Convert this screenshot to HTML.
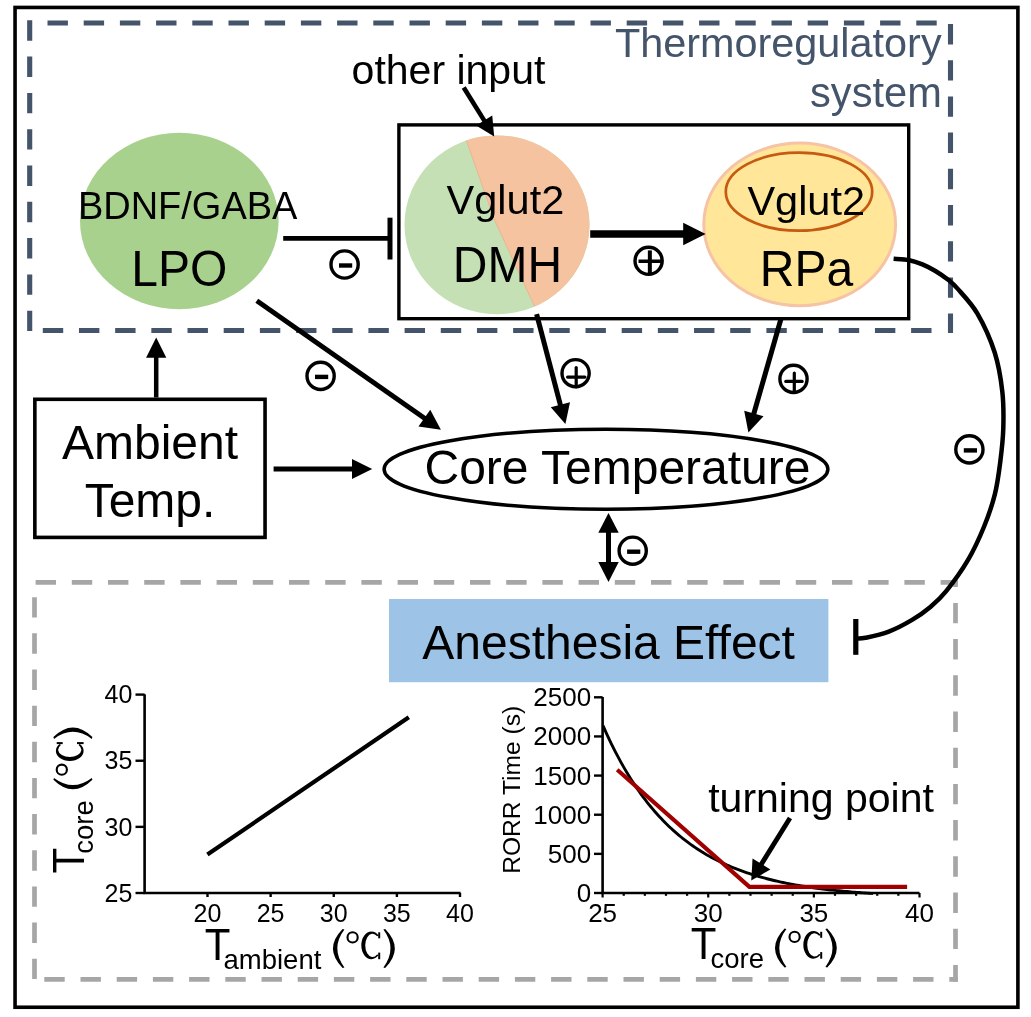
<!DOCTYPE html>
<html><head><meta charset="utf-8"><style>
html,body{margin:0;padding:0;background:#fff;width:1031px;height:1017px;overflow:hidden;}
svg{display:block;will-change:transform;}
text{font-family:"Liberation Sans",sans-serif;}
</style></head><body>
<svg width="1031" height="1017" viewBox="0 0 1031 1017">
<rect x="0" y="0" width="1031" height="1017" fill="#fff"/>
<rect x="15.05" y="7.45" width="1002.85" height="999.8" fill="none" stroke="#000" stroke-width="3.6"/>
<line x1="47.5" y1="23" x2="937" y2="23" stroke="#44546A" stroke-width="5.1" stroke-dasharray="20.4 15.8" stroke-dashoffset="0"/>
<line x1="29.7" y1="20.3" x2="29.7" y2="331.3" stroke="#44546A" stroke-width="5.1" stroke-dasharray="20.4 15.9" stroke-dashoffset="0"/>
<line x1="950.5" y1="24" x2="950.5" y2="332.9" stroke="#44546A" stroke-width="5.1" stroke-dasharray="20.4 15.8" stroke-dashoffset="0"/>
<line x1="42.8" y1="330.5" x2="932" y2="330.5" stroke="#44546A" stroke-width="5.1" stroke-dasharray="20.4 15.78" stroke-dashoffset="0"/>
<line x1="35.6" y1="582.4" x2="958" y2="582.4" stroke="#A6A6A6" stroke-width="4.7" stroke-dasharray="20.4 15.8" stroke-dashoffset="0"/>
<line x1="955.5" y1="580" x2="955.5" y2="981.8" stroke="#A6A6A6" stroke-width="4.7" stroke-dasharray="20.4 15.8" stroke-dashoffset="13.3"/>
<line x1="957.9" y1="979.4" x2="30" y2="979.4" stroke="#A6A6A6" stroke-width="4.7" stroke-dasharray="20.4 15.8" stroke-dashoffset="11.8"/>
<line x1="34.5" y1="597.2" x2="34.5" y2="979" stroke="#A6A6A6" stroke-width="4.7" stroke-dasharray="20.4 15.75" stroke-dashoffset="0"/>
<text x="941.6" y="57.2" font-size="41.4" fill="#44546A" text-anchor="end">Thermoregulatory</text>
<text x="941.8" y="106.6" font-size="41.6" fill="#44546A" text-anchor="end">system</text>
<rect x="398.9" y="124.9" width="509.8" height="193.8" fill="none" stroke="#000" stroke-width="3.4"/>
<ellipse cx="179.3" cy="221" rx="99.3" ry="88.2" fill="#A9D18E"/>
<clipPath id="dmhc"><ellipse cx="497" cy="224.8" rx="92.5" ry="89.4"/></clipPath>
<g clip-path="url(#dmhc)">
<rect x="400" y="130" width="200" height="190" fill="#C5E0B4"/>
<path d="M462,128 L494.6,220.3 L540,318 L600,318 L600,128 Z" fill="#F5C3A0" stroke="#EDB48E" stroke-width="1"/>
</g>
<ellipse cx="799.7" cy="224.4" rx="95.9" ry="81.3" fill="#FFE699" stroke="#F6C4A4" stroke-width="3"/>
<ellipse cx="799" cy="191.7" rx="73.2" ry="39" fill="none" stroke="#C55A11" stroke-width="2.7"/>
<text transform="translate(77.9,218.6) scale(1,1.04)" font-size="38" fill="#000" text-anchor="start">BDNF/GABA</text>
<text transform="translate(131.2,286.2) scale(1,1.04)" font-size="48" fill="#000" text-anchor="start">LPO</text>
<text x="446.6" y="213.8" font-size="41.5" fill="#000" text-anchor="start">Vglut2</text>
<text transform="translate(452.8,282.2) scale(1,1.04)" font-size="48" fill="#000" text-anchor="start">DMH</text>
<text x="747.4" y="215.4" font-size="41.5" fill="#000" text-anchor="start">Vglut2</text>
<text transform="translate(759.8,285.8) scale(1,1.03)" font-size="48" fill="#000" text-anchor="start">RPa</text>
<text x="351.6" y="83.7" font-size="41" fill="#000" text-anchor="start">other input</text>
<line x1="463.7" y1="87.5" x2="485.23" y2="122.16" stroke="#000" stroke-width="4.6"/>
<polygon points="494.2,136.6 476.1,125.47 492.24,115.45" fill="#000"/>
<line x1="283.2" y1="238.4" x2="390" y2="238.4" stroke="#000" stroke-width="4.7"/>
<rect x="387.5" y="217.7" width="5" height="41.8" fill="#000"/>
<circle cx="344.6" cy="264.5" r="13.6" fill="none" stroke="#000" stroke-width="3.4"/>
<rect x="339" y="263.3" width="13.2" height="4.4" fill="#000"/>
<line x1="590.2" y1="234" x2="685.2" y2="234" stroke="#000" stroke-width="7.7"/>
<polygon points="705.6,234 683.2,245.15 683.2,222.85" fill="#000"/>
<circle cx="648.6" cy="260.8" r="13.6" fill="none" stroke="#000" stroke-width="3.4"/>
<line x1="649.85" y1="250.4" x2="649.85" y2="274.4" stroke="#000" stroke-width="4" stroke-linecap="butt"/>
<line x1="638.5" y1="261.25" x2="661.5" y2="261.25" stroke="#000" stroke-width="3.5" stroke-linecap="butt"/>
<line x1="256.8" y1="300.7" x2="425.99" y2="419.26" stroke="#000" stroke-width="5"/>
<polygon points="440.9,429.7 418.45,426.54 430.27,409.67" fill="#000"/>
<circle cx="320.6" cy="375.9" r="13.6" fill="none" stroke="#000" stroke-width="3.4"/>
<rect x="315" y="374.7" width="13.2" height="4.4" fill="#000"/>
<line x1="536.6" y1="314.1" x2="560.89" y2="406.78" stroke="#000" stroke-width="5"/>
<polygon points="565.4,424 550.76,407.37 570.01,402.32" fill="#000"/>
<circle cx="575.6" cy="373.2" r="13.6" fill="none" stroke="#000" stroke-width="3.4"/>
<line x1="576.2" y1="367.5" x2="576.2" y2="386.8" stroke="#000" stroke-width="3.2" stroke-linecap="round"/>
<line x1="567.6" y1="377.1" x2="584.9" y2="377.1" stroke="#000" stroke-width="3.2" stroke-linecap="round"/>
<line x1="781.3" y1="317.7" x2="753.3" y2="415.49" stroke="#000" stroke-width="5"/>
<polygon points="748.4,432.6 744.19,410.8 763.51,416.33" fill="#000"/>
<circle cx="793.5" cy="378.9" r="13.6" fill="none" stroke="#000" stroke-width="3.4"/>
<line x1="794.3" y1="373" x2="794.3" y2="392.5" stroke="#000" stroke-width="3.2" stroke-linecap="round"/>
<line x1="785.8" y1="381.4" x2="802.1" y2="381.4" stroke="#000" stroke-width="3.2" stroke-linecap="round"/>
<rect x="34.85" y="399.3" width="230.2" height="138.1" fill="none" stroke="#000" stroke-width="3.6"/>
<text x="150" y="459.1" font-size="48" fill="#000" text-anchor="middle">Ambient</text>
<text x="150" y="516.6" font-size="48" fill="#000" text-anchor="middle">Temp.</text>
<line x1="156.2" y1="397.5" x2="156.2" y2="355.7" stroke="#000" stroke-width="4.5"/>
<polygon points="156.2,337.6 166.3,357.7 146.1,357.7" fill="#000"/>
<line x1="273.6" y1="469" x2="354" y2="469" stroke="#000" stroke-width="5"/>
<polygon points="372.2,469 352,479.1 352,458.9" fill="#000"/>
<ellipse cx="606" cy="469.25" rx="221.9" ry="40.05" fill="none" stroke="#000" stroke-width="3.5"/>
<text x="424.5" y="484.2" font-size="48" fill="#000" text-anchor="start">Core Temperature</text>
<line x1="608.5" y1="530" x2="608.5" y2="565" stroke="#000" stroke-width="5"/>
<polygon points="608.5,513.1 618.7,532.7 598.3,532.7" fill="#000"/>
<polygon points="608.5,581.9 618.7,561.9 598.3,561.9" fill="#000"/>
<circle cx="632.7" cy="550.7" r="13.6" fill="none" stroke="#000" stroke-width="3.4"/>
<rect x="627.1" y="549.5" width="13.2" height="4.4" fill="#000"/>
<path d="M893.6,258.8 C896.22,259.03 904.5,259.27 909.3,260.2 C914.1,261.13 918.05,262.6 922.4,264.4 C926.75,266.2 931.05,268.38 935.4,271 C939.75,273.62 944.85,277.2 948.5,280.1 C952.15,283 952.48,282.82 957.3,288.4 C962.12,293.98 971.17,302.92 977.4,313.6 C983.63,324.28 990.55,339.52 994.7,352.5 C998.85,365.48 1000.87,378.87 1002.3,391.5 C1003.73,404.13 1003.63,416.62 1003.3,428.3 C1002.97,439.98 1001.7,450.63 1000.3,461.6 C998.9,472.57 997.6,483.28 994.9,494.1 C992.2,504.92 988.6,515.48 984.1,526.5 C979.6,537.52 974.22,549.42 967.9,560.2 C961.58,570.98 952.4,583.45 946.2,591.2 C940,598.95 936.38,601.92 930.7,606.7 C925.02,611.48 919.08,615.75 912.1,619.9 C905.12,624.05 896.57,628.62 888.8,631.6 C881.03,634.58 870.97,636.65 865.5,637.8 C860.03,638.95 857.58,638.38 856,638.5" fill="none" stroke="#000" stroke-width="4.5"/>
<rect x="853.2" y="619" width="5.2" height="35.8" fill="#000"/>
<circle cx="969.4" cy="449.4" r="13.6" fill="none" stroke="#000" stroke-width="3.4"/>
<rect x="963.8" y="448.2" width="13.2" height="4.4" fill="#000"/>
<rect x="389" y="599" width="439.4" height="83.2" fill="#9DC3E6"/>
<text x="608.6" y="658.9" font-size="48" fill="#000" text-anchor="middle">Anesthesia Effect</text>
<path d="M144.6,694.2 V893 H460.6" fill="none" stroke="#000" stroke-width="2.6"/>
<line x1="135.5" y1="694.6" x2="144.6" y2="694.6" stroke="#000" stroke-width="2.4"/>
<text x="132.4" y="703.3" font-size="25" fill="#000" text-anchor="end">40</text>
<line x1="135.5" y1="760.73" x2="144.6" y2="760.73" stroke="#000" stroke-width="2.4"/>
<text x="132.4" y="769.43" font-size="25" fill="#000" text-anchor="end">35</text>
<line x1="135.5" y1="826.87" x2="144.6" y2="826.87" stroke="#000" stroke-width="2.4"/>
<text x="132.4" y="835.57" font-size="25" fill="#000" text-anchor="end">30</text>
<line x1="135.5" y1="893" x2="144.6" y2="893" stroke="#000" stroke-width="2.4"/>
<text x="132.4" y="901.7" font-size="25" fill="#000" text-anchor="end">25</text>
<line x1="207.5" y1="893" x2="207.5" y2="897" stroke="#000" stroke-width="2.4"/>
<text x="207.5" y="921.6" font-size="25" fill="#000" text-anchor="middle">20</text>
<line x1="270.62" y1="893" x2="270.62" y2="897" stroke="#000" stroke-width="2.4"/>
<text x="270.62" y="921.6" font-size="25" fill="#000" text-anchor="middle">25</text>
<line x1="333.75" y1="893" x2="333.75" y2="897" stroke="#000" stroke-width="2.4"/>
<text x="333.75" y="921.6" font-size="25" fill="#000" text-anchor="middle">30</text>
<line x1="396.88" y1="893" x2="396.88" y2="897" stroke="#000" stroke-width="2.4"/>
<text x="396.88" y="921.6" font-size="25" fill="#000" text-anchor="middle">35</text>
<line x1="460" y1="893" x2="460" y2="897" stroke="#000" stroke-width="2.4"/>
<text x="460" y="921.6" font-size="25" fill="#000" text-anchor="middle">40</text>
<line x1="207.4" y1="854.6" x2="408.8" y2="717.3" stroke="#000" stroke-width="4.2"/>
<text transform="translate(204.8,959.8) scale(1,1.05)" font-size="42" fill="#000" text-anchor="start">T</text>
<text x="223.5" y="968.5" font-size="27.5" fill="#000" text-anchor="start">ambient</text>
<g transform="translate(0,0)">
<path d="M342.6,929 Q323.4,948.5 342.6,968 L344.4,967.4 Q330.2,948.5 344.4,929.6 Z" fill="#000"/>
<path d="M342.6,929 Q323.4,948.5 342.6,968 L344.4,967.4 Q330.2,948.5 344.4,929.6 Z" fill="#000" transform="matrix(-1,0,0,1,727.8,0)"/>
<circle cx="352.6" cy="937.4" r="5.1" fill="none" stroke="#000" stroke-width="2.1"/>
<path d="M378.6,935.6 A10.1,13.85 0 1 0 378.6,955.1 L377.1,954.4 A7.3,11.6 0 1 1 377.1,936.3 Z" fill="#000"/>
<rect x="378.2" y="932.3" width="2" height="6" fill="#000"/>
<rect x="378.2" y="952.6" width="2" height="6.6" fill="#000"/>
</g>
<path d="M602.6,697 V893 H919.5" fill="none" stroke="#000" stroke-width="2.6"/>
<line x1="594" y1="697.3" x2="602.6" y2="697.3" stroke="#000" stroke-width="2.4"/>
<text x="591.2" y="706.3" font-size="26" fill="#000" text-anchor="end">2500</text>
<line x1="594" y1="736.44" x2="602.6" y2="736.44" stroke="#000" stroke-width="2.4"/>
<text x="591.2" y="745.44" font-size="26" fill="#000" text-anchor="end">2000</text>
<line x1="594" y1="775.58" x2="602.6" y2="775.58" stroke="#000" stroke-width="2.4"/>
<text x="591.2" y="784.58" font-size="26" fill="#000" text-anchor="end">1500</text>
<line x1="594" y1="814.72" x2="602.6" y2="814.72" stroke="#000" stroke-width="2.4"/>
<text x="591.2" y="823.72" font-size="26" fill="#000" text-anchor="end">1000</text>
<line x1="594" y1="853.86" x2="602.6" y2="853.86" stroke="#000" stroke-width="2.4"/>
<text x="591.2" y="862.86" font-size="26" fill="#000" text-anchor="end">500</text>
<line x1="594" y1="893" x2="602.6" y2="893" stroke="#000" stroke-width="2.4"/>
<text x="591.2" y="902" font-size="26" fill="#000" text-anchor="end">0</text>
<line x1="602.6" y1="893" x2="602.6" y2="897.5" stroke="#000" stroke-width="2.2"/>
<text x="602.6" y="922" font-size="26" fill="#000" text-anchor="middle">25</text>
<line x1="623.73" y1="893" x2="623.73" y2="895.8" stroke="#000" stroke-width="2.2"/>
<line x1="644.85" y1="893" x2="644.85" y2="895.8" stroke="#000" stroke-width="2.2"/>
<line x1="665.98" y1="893" x2="665.98" y2="895.8" stroke="#000" stroke-width="2.2"/>
<line x1="687.11" y1="893" x2="687.11" y2="895.8" stroke="#000" stroke-width="2.2"/>
<line x1="708.23" y1="893" x2="708.23" y2="897.5" stroke="#000" stroke-width="2.2"/>
<text x="708.23" y="922" font-size="26" fill="#000" text-anchor="middle">30</text>
<line x1="729.36" y1="893" x2="729.36" y2="895.8" stroke="#000" stroke-width="2.2"/>
<line x1="750.49" y1="893" x2="750.49" y2="895.8" stroke="#000" stroke-width="2.2"/>
<line x1="771.61" y1="893" x2="771.61" y2="895.8" stroke="#000" stroke-width="2.2"/>
<line x1="792.74" y1="893" x2="792.74" y2="895.8" stroke="#000" stroke-width="2.2"/>
<line x1="813.87" y1="893" x2="813.87" y2="897.5" stroke="#000" stroke-width="2.2"/>
<text x="813.87" y="922" font-size="26" fill="#000" text-anchor="middle">35</text>
<line x1="834.99" y1="893" x2="834.99" y2="895.8" stroke="#000" stroke-width="2.2"/>
<line x1="856.12" y1="893" x2="856.12" y2="895.8" stroke="#000" stroke-width="2.2"/>
<line x1="877.25" y1="893" x2="877.25" y2="895.8" stroke="#000" stroke-width="2.2"/>
<line x1="898.37" y1="893" x2="898.37" y2="895.8" stroke="#000" stroke-width="2.2"/>
<line x1="919.5" y1="893" x2="919.5" y2="897.5" stroke="#000" stroke-width="2.2"/>
<text x="919.5" y="922" font-size="26" fill="#000" text-anchor="middle">40</text>
<text transform="translate(519.6,789.8) rotate(-90)" font-size="24.6" text-anchor="middle">RORR Time (s)</text>
<polyline points="603,725.66 605,730.18 607,734.59 609,738.88 611,743.05 613,747.12 615,751.08 617,754.94 619,758.69 621,762.35 623,765.91 625,769.38 627,772.76 629,776.05 631,779.25 633,782.37 635,785.41 637,788.36 639,791.24 641,794.05 643,796.78 645,799.44 647,802.03 649,804.55 651,807.01 653,809.4 655,811.73 657,814 659,816.21 661,818.36 663,820.45 665,822.49 667,824.48 669,826.42 671,828.3 673,830.13 675,831.92 677,833.66 679,835.35 681,837 683,838.61 685,840.17 687,841.7 689,843.18 691,844.63 693,846.03 695,847.4 697,848.74 699,850.04 701,851.3 703,852.53 705,853.73 707,854.9 709,856.04 711,857.15 713,858.23 715,859.28 717,860.3 719,861.3 721,862.27 723,863.21 725,864.13 727,865.03 729,865.9 731,866.75 733,867.58 735,868.38 737,869.17 739,869.93 741,870.67 743,871.4 745,872.1 747,872.79 749,873.46 751,874.11 753,874.75 755,875.37 757,875.97 759,876.55 761,877.12 763,877.68 765,878.22 767,878.75 769,879.26 771,879.76 773,880.25 775,880.72 777,881.18 779,881.63 781,882.07 783,882.5 785,882.91 787,883.31 789,883.71 791,884.09 793,884.46 795,884.83 797,885.18 799,885.53 801,885.86 803,886.19 805,886.51 807,886.82 809,887.12 811,887.41 813,887.7 815,887.98 817,888.25 819,888.51 821,888.77 823,889.02 825,889.27 827,889.5 829,889.73 831,889.96 833,890.18 835,890.39 837,890.6 839,890.8 841,891 843,891.19 845,891.38 847,891.56 849,891.74 851,891.91 853,892.08 855,892.25 857,892.41 859,892.56 861,892.71 863,892.86 865,893 867,893.14 869,893.28 871,893.41 873,893.54" fill="none" stroke="#000" stroke-width="2.9" stroke-linejoin="round"/>
<polyline points="617.2,769.8 749.4,886.9 907.1,886.9" fill="none" stroke="#A00000" stroke-width="4.1"/>
<text x="708.2" y="811.6" font-size="41" fill="#000" text-anchor="start">turning point</text>
<line x1="790" y1="818" x2="760.43" y2="865.63" stroke="#000" stroke-width="4.8"/>
<polygon points="751.2,880.5 752.56,858.39 770.41,869.47" fill="#000"/>
<text transform="translate(690.8,958.8) scale(1,1.05)" font-size="42" fill="#000" text-anchor="start">T</text>
<text x="710.5" y="968.1" font-size="27.5" fill="#000" text-anchor="start">core</text>
<g transform="translate(442,-0.5)">
<path d="M342.6,929 Q323.4,948.5 342.6,968 L344.4,967.4 Q330.2,948.5 344.4,929.6 Z" fill="#000"/>
<path d="M342.6,929 Q323.4,948.5 342.6,968 L344.4,967.4 Q330.2,948.5 344.4,929.6 Z" fill="#000" transform="matrix(-1,0,0,1,727.8,0)"/>
<circle cx="352.6" cy="937.4" r="5.1" fill="none" stroke="#000" stroke-width="2.1"/>
<path d="M378.6,935.6 A10.1,13.85 0 1 0 378.6,955.1 L377.1,954.4 A7.3,11.6 0 1 1 377.1,936.3 Z" fill="#000"/>
<rect x="378.2" y="932.3" width="2" height="6" fill="#000"/>
<rect x="378.2" y="952.6" width="2" height="6.6" fill="#000"/>
</g>
<g transform="matrix(0,-1,1,0,-875.1,1564.3)">
<text transform="translate(690.8,958.8) scale(1,1.05)" font-size="42" fill="#000" text-anchor="start">T</text>
<text x="710.5" y="968.1" font-size="27.5" fill="#000" text-anchor="start">core</text>
<g transform="translate(442,-0.5)">
<path d="M342.6,929 Q323.4,948.5 342.6,968 L344.4,967.4 Q330.2,948.5 344.4,929.6 Z" fill="#000"/>
<path d="M342.6,929 Q323.4,948.5 342.6,968 L344.4,967.4 Q330.2,948.5 344.4,929.6 Z" fill="#000" transform="matrix(-1,0,0,1,727.8,0)"/>
<circle cx="352.6" cy="937.4" r="5.1" fill="none" stroke="#000" stroke-width="2.1"/>
<path d="M378.6,935.6 A10.1,13.85 0 1 0 378.6,955.1 L377.1,954.4 A7.3,11.6 0 1 1 377.1,936.3 Z" fill="#000"/>
<rect x="378.2" y="932.3" width="2" height="6" fill="#000"/>
<rect x="378.2" y="952.6" width="2" height="6.6" fill="#000"/>
</g>
</g>
</svg>
</body></html>
